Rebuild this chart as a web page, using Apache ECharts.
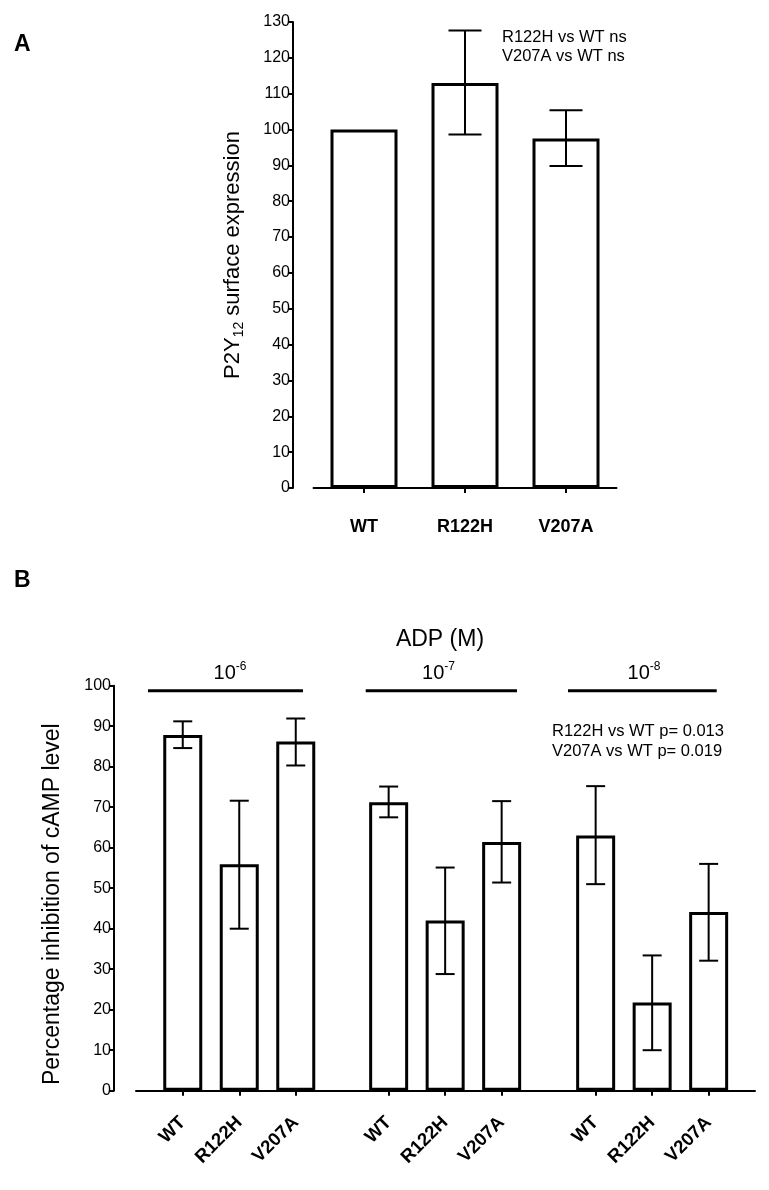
<!DOCTYPE html>
<html><head><meta charset="utf-8">
<script src="https://cdn.jsdelivr.net/npm/echarts@6/dist/echarts.min.js"></script>
<style>html,body{margin:0;padding:0;background:#fff}#c{width:769px;height:1190px}</style>
</head><body><div id="c"></div>
<script>
const FONT = '"Liberation Sans", Arial, Helvetica, sans-serif';

// ---------- Panel A data ----------
const catsA = ['WT', 'R122H', 'V207A'];
const meanA = [100, 113, 97.5];
const lowA = [null, 98.6, 89.8];
const highA = [null, 127.6, 105.4];
const notesA = ['R122H vs WT ns', 'V207A vs WT ns'];

// ---------- Panel B data ----------
const genotypes = ['WT', 'R122H', 'V207A'];
const doseExps = ['-6', '-7', '-8'];
const meanB6 = [87.8, 55.9, 86.2];
const lowB6 = [84.6, 40.0, 80.3];
const highB6 = [91.2, 71.6, 91.9];
const meanB7 = [71.2, 42.0, 61.4];
const lowB7 = [67.5, 28.8, 51.4];
const highB7 = [75.1, 55.1, 71.5];
const meanB8 = [63.0, 21.8, 44.1];
const lowB8 = [51.0, 10.0, 32.1];
const highB8 = [75.2, 33.4, 56.0];
const notesB = ['R122H vs WT p= 0.013', 'V207A vs WT p= 0.019'];

const groupsB = [
  {mean: meanB6, low: lowB6, high: highB6},
  {mean: meanB7, low: lowB7, high: highB7},
  {mean: meanB8, low: lowB8, high: highB8}
];

function errData(low, high) {
  const out = [];
  for (let i = 0; i < low.length; i++) if (low[i] != null) out.push([i, low[i], high[i]]);
  return out;
}
function errRender(capW) {
  return function (params, api) {
    const x = api.value(0), lo = api.value(1), hi = api.value(2);
    const pl = api.coord([x, lo]), ph = api.coord([x, hi]);
    const st = {stroke: '#000', lineWidth: 2};
    return {type: 'group', children: [
      {type: 'line', shape: {x1: pl[0], y1: pl[1], x2: ph[0], y2: ph[1]}, style: st},
      {type: 'line', shape: {x1: pl[0] - capW / 2, y1: pl[1], x2: pl[0] + capW / 2, y2: pl[1]}, style: st},
      {type: 'line', shape: {x1: ph[0] - capW / 2, y1: ph[1], x2: ph[0] + capW / 2, y2: ph[1]}, style: st}
    ]};
  };
}

const chart = echarts.init(document.getElementById('c'), null, {renderer: 'canvas'});

const topB = 685.7, hB = 405;
const grids = [
  {left: 313.5, width: 303, top: 22, height: 466},          // A
  {left: 154.5, width: 169.5, top: topB, height: hB},        // B group 1
  {left: 360.4, width: 169.5, top: topB, height: hB},        // B group 2
  {left: 567.4, width: 169.5, top: topB, height: hB},        // B group 3
  {left: 136, width: 619, top: topB, height: hB}             // B x axis line
];

const axisLineSt = {show: true, lineStyle: {color: '#000', width: 2}};
const tickSt = {show: true, length: 5, lineStyle: {color: '#000', width: 2}};

const xAxes = [
  {gridIndex: 0, type: 'category', data: catsA, offset: 21,
   axisLine: axisLineSt, axisTick: Object.assign({alignWithLabel: true}, tickSt),
   axisLabel: {color: '#000', fontFamily: FONT, fontWeight: 'bold', fontSize: 18, margin: 9, interval: 0}}
];
for (let g = 0; g < 3; g++) {
  xAxes.push({gridIndex: g + 1, type: 'category', data: genotypes, offset: 21,
    axisLine: {show: false}, axisTick: Object.assign({alignWithLabel: true}, tickSt),
    axisLabel: {color: '#000', fontFamily: FONT, fontWeight: 'bold', fontSize: 18.5, rotate: 45, margin: 8, interval: 0}});
}
xAxes.push({gridIndex: 4, type: 'value', min: 0, max: 1, offset: 21, axisLine: axisLineSt,
  axisTick: {show: false}, axisLabel: {show: false}, splitLine: {show: false}});

const yAxes = [
  {gridIndex: 0, type: 'value', min: 0, max: 130, interval: 10, offset: 20.5,
   axisLine: axisLineSt, axisTick: tickSt, splitLine: {show: false},
   axisLabel: {color: '#000', fontFamily: FONT, fontSize: 16, margin: 3},
   name: '{a|P2Y}{s|12}{a| surface expression}', nameLocation: 'middle', nameGap: 47,
   nameTextStyle: {fontFamily: FONT, color: '#000',
     rich: {a: {fontSize: 22, fontFamily: FONT, color: '#000', lineHeight: 27},
            s: {fontSize: 14, fontFamily: FONT, color: '#000', lineHeight: 14, verticalAlign: 'bottom'}}}},
  {gridIndex: 1, type: 'value', min: 0, max: 100, interval: 10, offset: 40.5,
   axisLine: axisLineSt, axisTick: tickSt, splitLine: {show: false},
   axisLabel: {color: '#000', fontFamily: FONT, fontSize: 16, margin: 3},
   name: 'Percentage inhibition of cAMP level', nameLocation: 'middle', nameGap: 50,
   nameTextStyle: {fontFamily: FONT, color: '#000', fontSize: 23, padding: [0, 32, 0, 0]}},
  {gridIndex: 2, type: 'value', min: 0, max: 100, show: false},
  {gridIndex: 3, type: 'value', min: 0, max: 100, show: false},
  {gridIndex: 4, type: 'value', min: 0, max: 100, show: false}
];

const barStyle = {color: '#fff', borderColor: '#000', borderWidth: 3};
const series = [
  {type: 'bar', xAxisIndex: 0, yAxisIndex: 0, data: meanA, barWidth: 67, itemStyle: barStyle, silent: true, z: 2},
  {type: 'custom', xAxisIndex: 0, yAxisIndex: 0, data: errData(lowA, highA), renderItem: errRender(33),
   encode: {x: 0, y: [1, 2]}, z: 5, silent: true}
];
groupsB.forEach((gr, g) => {
  series.push({type: 'bar', xAxisIndex: g + 1, yAxisIndex: g + 1, data: gr.mean, barWidth: 39,
    itemStyle: barStyle, silent: true, z: 2});
  series.push({type: 'custom', xAxisIndex: g + 1, yAxisIndex: g + 1, data: errData(gr.low, gr.high),
    renderItem: errRender(19), encode: {x: 0, y: [1, 2]}, z: 5, silent: true});
});

// dose group headers (annotation positions)
const doseLines = [[148, 303], [365.7, 517], [568, 716.7]];
const doseTextX = [230, 438.5, 644];
const graphics = [
  {type: 'text', left: 14, top: 33, style: {text: 'A', font: 'bold 23px ' + FONT, fill: '#000'}},
  {type: 'text', left: 14, top: 569, style: {text: 'B', font: 'bold 23px ' + FONT, fill: '#000'}},
  {type: 'text', x: 502, y: 28, style: {text: notesA.join('\n'), font: '16.5px ' + FONT, fill: '#000', lineHeight: 19}},
  {type: 'text', x: 440, y: 640, style: {text: 'ADP (M)', font: '23px ' + FONT, fill: '#000', align: 'center', verticalAlign: 'middle'}},
  {type: 'text', x: 552, y: 721, style: {text: notesB.join('\n'), font: '16.5px ' + FONT, fill: '#000', lineHeight: 20}}
];
doseExps.forEach((e, i) => {
  graphics.push({type: 'line', shape: {x1: doseLines[i][0], y1: 690.7, x2: doseLines[i][1], y2: 690.7},
    style: {stroke: '#000', lineWidth: 3}});
  graphics.push({type: 'text', x: doseTextX[i], y: 673, style: {
    text: '{b|10}{s|' + e + '}', align: 'center', verticalAlign: 'middle',
    rich: {b: {fontSize: 20, fontFamily: FONT, fill: '#000', lineHeight: 24},
           s: {fontSize: 12, fontFamily: FONT, fill: '#000', lineHeight: 12, verticalAlign: 'top'}}}});
});

chart.setOption({
  animation: false,
  backgroundColor: '#fff',
  textStyle: {fontFamily: FONT, color: '#000'},
  grid: grids,
  xAxis: xAxes,
  yAxis: yAxes,
  series: series,
  graphic: graphics
});
</script>
</body></html>
